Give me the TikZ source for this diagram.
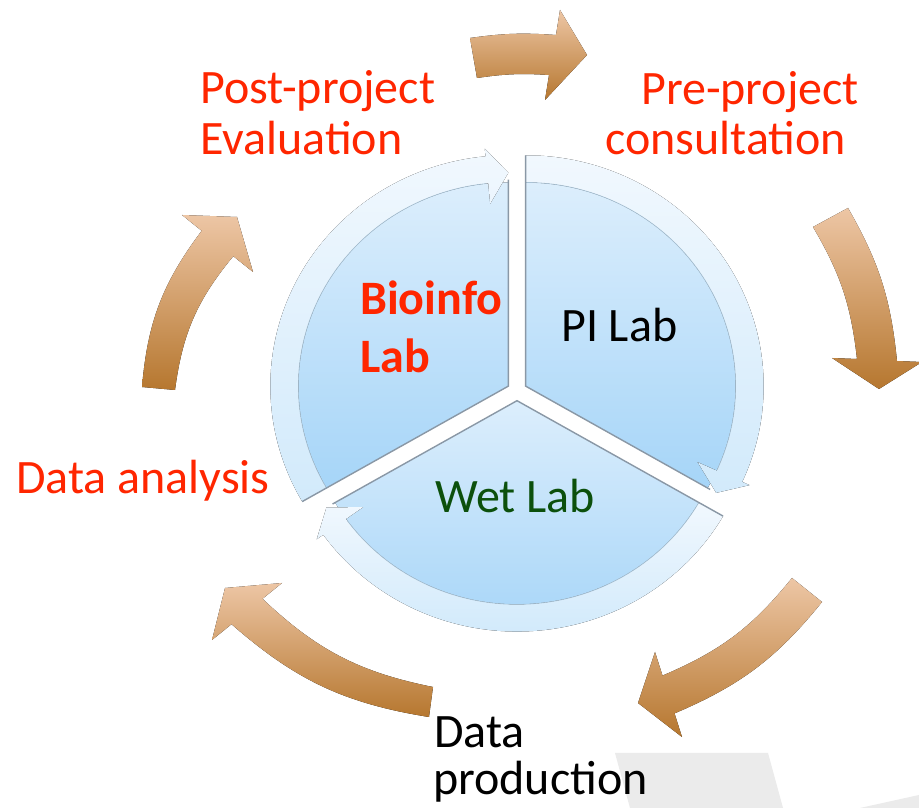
\documentclass[tikz,border=0pt]{standalone}
\usepackage{fontspec}
\setmainfont{Carlito}
\definecolor{redtxt}{HTML}{FF2600}
\definecolor{greentxt}{HTML}{0C500C}
\definecolor{brownL}{HTML}{EDC6A5}
\definecolor{brownD}{HTML}{B6772F}
\definecolor{wedgeT}{HTML}{DCEEFC}
\definecolor{wedgeB}{HTML}{A6D5F8}
\definecolor{ringT}{HTML}{F1F8FE}
\definecolor{ringB}{HTML}{D2EAFB}
\definecolor{edgegrey}{HTML}{8A98A6}
\definecolor{arcgrey}{HTML}{A9C3D6}
\definecolor{bggrey}{HTML}{EBEBEB}
\tikzset{
  lbl/.style={inner sep=0pt, anchor=base west, font=\fontsize{48}{56}\selectfont},
  brownarrow/.style={top color=brownL, bottom color=brownD, draw=none},
  wedgefill/.style={top color=wedgeT, bottom color=wedgeB, draw=none},
  ringfill/.style={top color=ringT, bottom color=ringB, draw=none},
  edgeline/.style={draw=edgegrey, line width=1.4pt},
  arcline/.style={draw=arcgrey, line width=0.6pt},
}
\newcommand\pieseg[3]{%
 \begin{scope}[shift={(#1:10)}]
  \fill[wedgefill] (0,0) -- (#2:210) arc[start angle=#2, end angle=#3, radius=210] -- cycle;
  \fill[ringfill] (#2:210) -- (#2:238) arc[start angle=#2, end angle={#3+5.5}, radius=238]
     -- ({#3+5.5}:246) -- (#3:220) -- ({#3+5.5}:189) -- ({#3+5.5}:210)
     arc[start angle={#3+5.5}, end angle=#2, radius=210] -- cycle;
  \draw[arcline] (#2:210) arc[start angle=#2, end angle={#3+6}, radius=210];
  \draw[edgeline] (#2:238) -- (0,0) -- (#3:213);
 \end{scope}}
\begin{document}
\begin{tikzpicture}[x=1pt,y=1pt]
\useasboundingbox (0,0) rectangle (919,808);
\fill[white] (0,0) rectangle (919,808);
\fill[bggrey] (615,55) -- (768,55) -- (783,0) -- (630,0) -- cycle;
\fill[bggrey] (860,0) -- (919,13) -- (919,0) -- cycle;
% top arrow
\coordinate (tTo) at (470,770); \coordinate (tTi) at (477,730);
\coordinate (tSo) at (556,773); \coordinate (tSi) at (549,733);
\coordinate (tBo) at (560,798); \coordinate (tBi) at (545,708);
\coordinate (tP) at (587,753);
\fill[brownarrow] (tTo) to[bend left=6] (tSo) -- (tBo) -- (tP) -- (tBi) -- (tSi) to[bend right=6] (tTi) -- cycle;
% right arrow
\coordinate (rTo) at (848,600); \coordinate (rTi) at (813,581);
\coordinate (rSo) at (897,447); \coordinate (rSi) at (857,449);
\coordinate (rBo) at (922,446); \coordinate (rBi) at (832,450);
\coordinate (rP) at (879,419);
\fill[brownarrow] (rTo) to[bend left=12] (rSo) -- (rBo) -- (rP) -- (rBi) -- (rSi) to[bend right=12] (rTi) -- cycle;
% bottom-right arrow
\coordinate (bTo) at (822,206); \coordinate (bTi) at (792,230);
\coordinate (bSo) at (674.5,94.6); \coordinate (bSi) at (662.5,132.4);
\coordinate (bBo) at (682,71); \coordinate (bBi) at (655,156);
\coordinate (bP) at (638,105);
\fill[brownarrow] (bTo) to[bend left=14] (bSo) -- (bBo) -- (bP) -- (bBi) -- (bSi) to[bend right=14] (bTi) -- cycle;
% bottom-left arrow
\coordinate (lTo) at (429,91); \coordinate (lTi) at (433,121);
\coordinate (lSo) at (231.5,183.8); \coordinate (lSi) at (262.5,209.2);
\coordinate (lBo) at (212,168); \coordinate (lBi) at (282,225);
\coordinate (lP) at (225,220);
\fill[brownarrow] (lTo) to[bend left=16] (lSo) -- (lBo) -- (lP) -- (lBi) -- (lSi) to[bend right=16] (lTi) -- cycle;
% top-left arrow
\coordinate (aTo) at (142,421); \coordinate (aTi) at (175,418);
\coordinate (aSo) at (201.7,577.2); \coordinate (aSi) at (233.3,551.8);
\coordinate (aBo) at (182,593); \coordinate (aBi) at (253,536);
\coordinate (aP) at (237,591);
\fill[brownarrow] (aTo) to[bend left=16] (aSo) -- (aBo) -- (aP) -- (aBi) -- (aSi) to[bend right=16] (aTi) -- cycle;
% central segmented circle
\begin{scope}[shift={(517,417)}, yscale=0.97]
 \pieseg{150}{210}{90}
 \pieseg{30}{90}{-30}
 \pieseg{270}{-30}{-150}
\end{scope}
% labels
\node[lbl, text=redtxt] (post1) at (200,704) {Post-project};
\node[lbl, text=redtxt] (post2) at (200,653) {Evaluation};
\node[lbl, text=redtxt] (pre1) at (641,703) {Pre-project};
\node[lbl, text=redtxt] (pre2) at (605,653) {consultation};
\node[lbl, text=redtxt] (ana) at (16,314) {Data analysis};
\node[lbl, text=black] (prod1) at (434,60) {Data};
\node[lbl, text=black] (prod2) at (433,13) {production};
\node[lbl, text=redtxt, font=\fontsize{48}{56}\selectfont\bfseries] (bio1) at (360,493) {Bioinfo};
\node[lbl, text=redtxt, font=\fontsize{48}{56}\selectfont\bfseries] (bio2) at (360,435) {Lab};
\node[lbl, text=black] (pi) at (561,466) {PI Lab};
\node[lbl, text=greentxt] (wet) at (435,295) {Wet Lab};
\end{tikzpicture}
\end{document}
